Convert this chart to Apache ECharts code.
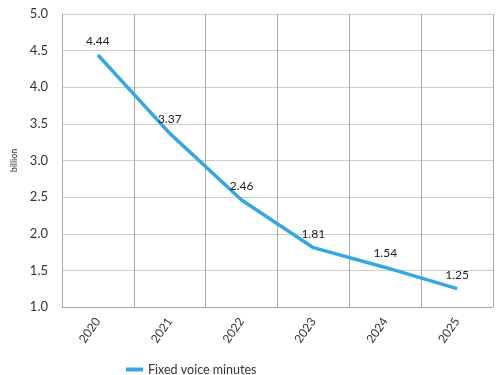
<!DOCTYPE html>
<html>
<head>
<meta charset="utf-8">
<script src="https://cdn.jsdelivr.net/npm/echarts@6/dist/echarts.min.js"></script>
<style>
  html, body { margin: 0; padding: 0; background: #fff; }
  #chart { width: 500px; height: 375px; }
</style>
</head>
<body>
<div id="chart"></div>
<script>
// Fixed voice minutes, billions, 2020-2025
const years = ['2020', '2021', '2022', '2023', '2024', '2025'];
const fixedVoiceMinutes = [4.44, 3.37, 2.46, 1.81, 1.54, 1.25];
const seriesName = 'Fixed voice minutes';
const yAxisTitle = 'billion';

const font = 'Lato, "Noto Sans", sans-serif';
const chart = echarts.init(document.getElementById('chart'), null, { renderer: 'canvas' });

chart.setOption({
  animation: false,
  grid: { left: 62, right: 7, top: 14, bottom: 68 },
  legend: {
    top: 358,
    left: 121,
    itemWidth: 17,
    itemHeight: 4,
    itemGap: 10,
    icon: 'rect',
    textStyle: { fontFamily: font, fontSize: 12.5, color: '#333' },
    data: [seriesName]
  },
  xAxis: {
    type: 'category',
    data: years,
    boundaryGap: true,
    axisLine: { lineStyle: { color: '#aaa' } },
    axisTick: { show: false },
    splitLine: { show: true, lineStyle: { color: '#aaa' } },
    axisLabel: { rotate: 55, fontFamily: font, fontSize: 12, color: '#333', margin: 12, interval: 0 }
  },
  yAxis: {
    type: 'value',
    min: 1,
    max: 5,
    interval: 0.5,
    name: yAxisTitle,
    nameLocation: 'middle',
    nameGap: 40,
    nameTextStyle: { fontFamily: font, fontSize: 9, color: '#333' },
    axisLine: { show: true, lineStyle: { color: '#aaa' } },
    axisTick: { show: false },
    splitLine: { lineStyle: { color: '#ccc' } },
    axisLabel: {
      fontFamily: font, fontSize: 13, color: '#333', margin: 14,
      formatter: v => v.toFixed(1)
    }
  },
  series: [{
    name: seriesName,
    type: 'line',
    data: fixedVoiceMinutes,
    symbol: 'circle',
    symbolSize: 0.01,
    showSymbol: true,
    lineStyle: { color: '#35a8e0', width: 3.5 },
    itemStyle: { color: '#35a8e0' },
    label: {
      show: true,
      position: 'top',
      distance: 8,
      fontFamily: font,
      fontSize: 12,
      color: '#222',
      formatter: p => p.value.toFixed(2)
    },
    labelLayout: { hideOverlap: false }
  }]
});
</script>
</body>
</html>
